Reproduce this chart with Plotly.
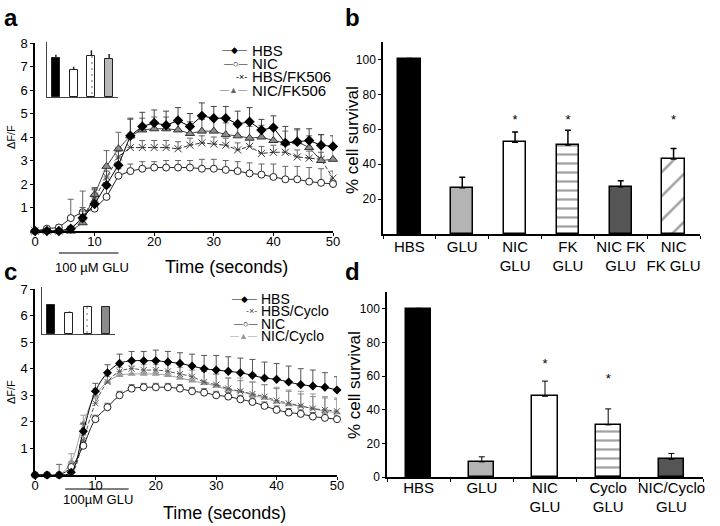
import plotly.graph_objects as go

FONT = "Liberation Sans, Arial, sans-serif"

# ---- panel a : calcium traces (FK506) ----
time_s = list(range(0, 52, 2))
a_hbs = [0, 0, 0, 0.1, 0.55, 1.15, 1.95, 2.8, 4.05, 4.45, 4.6, 4.5, 4.7, 4.45, 4.9, 4.8,
         4.8, 4.55, 4.65, 4.3, 4.4, 3.75, 3.8, 3.85, 3.65, 3.6]
a_hbs_err = [0, 0, 0, 0.1, 0.3, 0.6, 0.6, 0.6, 0.75, 0.6, 0.55, 0.6, 0.55, 0.55, 0.55, 0.5,
             0.5, 0.55, 0.6, 0.45, 0.5, 0.7, 0.55, 0.5, 0.45, 0.45]
a_nic = [0, 0.1, 0.15, 0.55, 0.8, 0.95, 1.45, 2.35, 2.55, 2.65, 2.7, 2.7, 2.7, 2.7, 2.65, 2.65,
         2.6, 2.55, 2.45, 2.4, 2.3, 2.2, 2.2, 2.1, 2.05, 2.0]
a_nic_err = [0, 0, 0.1, 0.8, 0.9, 0.5, 0.4, 0.3, 0.3, 0.3, 0.25, 0.3, 0.3, 0.3, 0.4, 0.4,
             0.4, 0.4, 0.45, 0.45, 0.55, 0.55, 0.55, 0.6, 0.6, 0.2]
a_hbsfk = [0, 0, 0, 0.05, 0.6, 1.4, 2.3, 3.15, 3.55, 3.55, 3.55, 3.55, 3.5, 3.65, 3.75, 3.7,
           3.65, 3.45, 3.6, 3.3, 3.35, 3.35, 3.15, 3.1, 3.05, 2.25]
a_hbsfk_err = [0, 0, 0, 0.1, 0.4, 0.4, 0.4, 0.4, 0.4, 0.3, 0.3, 0.3, 0.3, 0.3, 0.3, 0.3,
               0.3, 0.3, 0.3, 0.3, 0.3, 0.3, 0.3, 0.3, 0.3, 0.3]
a_nicfk = [0, 0, 0, 0, 0.35, 1.55, 2.75, 3.5, 4.05, 4.3, 4.35, 4.35, 4.3, 4.15, 4.25, 4.25,
           4.1, 4.05, 3.95, 4.0, 3.85, 3.75, 3.8, 3.55, 3.0, 3.05]
a_nicfk_err = [0, 0, 0, 0.1, 0.3, 0.3, 0.67, 0.7, 0.7, 0.5, 0.5, 0.5, 0.5, 0.5, 0.5, 0.5,
               0.5, 0.5, 0.5, 0.5, 0.5, 0.5, 0.5, 0.5, 1.1, 0.5]
glu_a = [4, 14]

# legend rows of a: label, sample glyphs, sample colour
legend_a = [("HBS", "—◆—", "black"), ("NIC", "—○—", "black"),
            ("HBS/FK506", "-×-", "black"), ("NIC/FK506", "—▲—", "#666")]

# inset of a (relative heights)
inset_a = [0.71, 0.49, 0.75, 0.69]
inset_a_err = [0.06, 0.06, 0.1, 0.09]

# ---- panel b : survival (FK506) ----
b_labels = ["HBS", "GLU", "NIC<br>GLU", "FK<br>GLU", "NIC FK<br>GLU", "NIC<br>FK GLU"]
b_vals = [100, 26.5, 52.5, 51, 27, 43]
b_err = [0.6, 6, 6, 8.5, 3.5, 6]
b_star_idx = [2, 3, 5]
b_star_y = [65, 65, 65]

# ---- panel c : calcium traces (cyclosporin) ----
c_hbs = [0, 0, 0, 0.1, 1.65, 3.15, 3.85, 4.2, 4.3, 4.3, 4.3, 4.25, 4.2, 4.1, 4.0, 3.95,
         3.9, 3.85, 3.75, 3.65, 3.6, 3.5, 3.4, 3.35, 3.3, 3.2]
c_hbs_err = [0, 0, 0, 0.1, 0.3, 0.3, 0.3, 0.35, 0.35, 0.35, 0.4, 0.4, 0.4, 0.45, 0.5, 0.55,
             0.55, 0.55, 0.6, 0.6, 0.6, 0.6, 0.6, 0.6, 0.55, 0.5]
c_hbscy = [0, 0, 0, 0.05, 1.3, 2.7, 3.5, 3.9, 4.0, 3.95, 3.95, 3.9, 3.8, 3.7, 3.5, 3.4,
           3.25, 3.15, 3.05, 2.95, 2.8, 2.7, 2.6, 2.5, 2.45, 2.4]
c_hbscy_err = [0, 0, 0, 0.1, 0.2, 0.2, 0.2, 0.25, 0.25, 0.3, 0.3, 0.3, 0.35, 0.35, 0.4, 0.4,
               0.4, 0.4, 0.45, 0.45, 0.45, 0.45, 0.45, 0.45, 0.45, 0.45]
c_nic = [0, 0, 0, 0.3, 1.1, 2.1, 2.55, 3.0, 3.25, 3.3, 3.3, 3.3, 3.25, 3.15, 3.1, 3.0,
         2.95, 2.85, 2.75, 2.6, 2.45, 2.35, 2.3, 2.2, 2.15, 2.1]
c_nic_err = [0, 0, 0.4, 0.1, 0.15, 0.15, 0.15, 0.15, 0.15, 0.15, 0.15, 0.15, 0.15, 0.15, 0.15, 0.15,
             0.15, 0.15, 0.15, 0.15, 0.15, 0.15, 0.15, 0.15, 0.15, 0.15]
c_niccy = [0, 0, 0, 0.5, 1.95, 3.0, 3.5, 3.75, 3.8, 3.8, 3.8, 3.75, 3.65, 3.55, 3.45, 3.35,
           3.2, 3.15, 3.0, 2.9, 2.75, 2.65, 2.6, 2.5, 2.4, 2.35]
c_niccy_err = [0, 0, 0, 0.3, 0.3, 0.25, 0.3, 0.3, 0.3, 0.35, 0.35, 0.4, 0.4, 0.4, 0.45, 0.45,
               0.45, 0.5, 0.5, 0.5, 0.55, 0.55, 0.55, 0.55, 0.55, 0.55]
glu_c = [5, 15.5]

legend_c = [("HBS", "—◆—", "black"), ("HBS/Cyclo", "-×-", "#444"),
            ("NIC", "—○—", "black"), ("NIC/Cyclo", "—▲—", "#999")]

inset_c = [0.61, 0.45, 0.58, 0.57]
inset_c_err = [0.02, 0.03, 0.02, 0.0]

# ---- panel d : survival (cyclosporin) ----
d_labels = ["HBS", "GLU", "NIC<br>GLU", "Cyclo<br>GLU", "NIC/Cyclo<br>GLU"]
d_vals = [100, 9, 48, 31, 10.5]
d_err = [0.3, 3, 9, 9.5, 3.5]
d_star_idx = [2, 3]
d_star_y = [67, 58]


def up_err(vals, color, thick=1):
    return dict(type="data", symmetric=False, array=vals, arrayminus=[0] * len(vals),
                color=color, thickness=thick, width=3)


fig = go.Figure()

# panel a traces
fig.add_trace(go.Scatter(x=time_s, y=a_nic, mode="lines+markers",
                         line=dict(color="#222", width=1),
                         marker=dict(symbol="circle", size=7, color="white", line=dict(color="#222", width=1)),
                         error_y=up_err(a_nic_err, "#666"), cliponaxis=False))
fig.add_trace(go.Scatter(x=time_s, y=a_hbsfk, mode="lines+markers",
                         line=dict(color="#333", width=1, dash="4px,2px"),
                         marker=dict(symbol="x-thin-open", size=7, color="#333", line=dict(color="#333", width=1)),
                         error_y=up_err(a_hbsfk_err, "#666"), cliponaxis=False))
fig.add_trace(go.Scatter(x=time_s, y=a_nicfk, mode="lines+markers",
                         line=dict(color="#444", width=1),
                         marker=dict(symbol="triangle-up", size=8, color="#8c8c8c", line=dict(color="#333", width=1)),
                         error_y=up_err(a_nicfk_err, "#666"), cliponaxis=False))
fig.add_trace(go.Scatter(x=time_s, y=a_hbs, mode="lines+markers",
                         line=dict(color="black", width=1),
                         marker=dict(symbol="diamond", size=8, color="black"),
                         error_y=up_err(a_hbs_err, "#444"), cliponaxis=False))

# inset a
fig.add_trace(go.Bar(x=[0, 1, 2, 3], y=inset_a, xaxis="x2", yaxis="y2", width=0.45,
                     marker=dict(color=["black", "white", "white", "#b8b8b8"],
                                 line=dict(color="#222", width=1),
                                 pattern=dict(shape=["", "", ".", ""], fgcolor="#aaa", size=6, solidity=0.1)),
                     error_y=dict(type="data", symmetric=False, array=inset_a_err, arrayminus=[0] * 4,
                                  color="#222", thickness=1.5, width=0)))

# panel b
b_fill = ["black", "#b4b4b4", "white", "white", "#555555", "white"]
fig.add_trace(go.Bar(x=b_labels, y=b_vals, xaxis="x3", yaxis="y3", width=0.42,
                     marker=dict(color=b_fill, line=dict(color="black", width=1.5),
                                 pattern=dict(shape=["", "", "", "-", "", "/"], fgcolor="black", bgcolor=b_fill,
                                              size=[9, 9, 9, 9, 9, 17], solidity=[0.2, 0.2, 0.2, 0.25, 0.2, 0.15])),
                     error_y=up_err(b_err, "black", 1.5)))
fig.add_trace(go.Scatter(x=[b_labels[i] for i in b_star_idx], y=b_star_y, xaxis="x3", yaxis="y3",
                         mode="text", text=["*"] * len(b_star_idx), textfont=dict(size=13, color="black")))

# panel c traces
fig.add_trace(go.Scatter(x=time_s, y=c_niccy, mode="lines+markers", xaxis="x4", yaxis="y4",
                         line=dict(color="#a0a0a0", width=1, shape="spline"),
                         marker=dict(symbol="triangle-up", size=7, color="#9a9a9a"),
                         error_y=up_err(c_niccy_err, "#999"), cliponaxis=False))
fig.add_trace(go.Scatter(x=time_s, y=c_hbscy, mode="lines+markers", xaxis="x4", yaxis="y4",
                         line=dict(color="#555", width=1, dash="4px,2px", shape="spline"),
                         marker=dict(symbol="x-thin-open", size=6, color="#555", line=dict(color="#555", width=1)),
                         error_y=up_err(c_hbscy_err, "#888"), cliponaxis=False))
fig.add_trace(go.Scatter(x=time_s, y=c_nic, mode="lines+markers", xaxis="x4", yaxis="y4",
                         line=dict(color="#222", width=1, shape="spline"),
                         marker=dict(symbol="circle", size=7, color="white", line=dict(color="#222", width=1)),
                         error_y=up_err(c_nic_err, "#666"), cliponaxis=False))
fig.add_trace(go.Scatter(x=time_s, y=c_hbs, mode="lines+markers", xaxis="x4", yaxis="y4",
                         line=dict(color="black", width=1, shape="spline"),
                         marker=dict(symbol="diamond", size=7, color="black"),
                         error_y=up_err(c_hbs_err, "#555"), cliponaxis=False))

# inset c
fig.add_trace(go.Bar(x=[0, 1, 2, 3], y=inset_c, xaxis="x5", yaxis="y5", width=0.45,
                     marker=dict(color=["black", "white", "white", "#8a8a8a"],
                                 line=dict(color="#222", width=1),
                                 pattern=dict(shape=["", "", ".", ""], fgcolor="#aaa", size=6, solidity=0.1)),
                     error_y=dict(type="data", symmetric=False, array=inset_c_err, arrayminus=[0] * 4,
                                  color="#222", thickness=1.5, width=0)))

# panel d
d_fill = ["black", "#b4b4b4", "white", "white", "#555555"]
fig.add_trace(go.Bar(x=d_labels, y=d_vals, xaxis="x6", yaxis="y6", width=0.4,
                     marker=dict(color=d_fill, line=dict(color="black", width=1.5),
                                 pattern=dict(shape=["", "", "", "-", ""], fgcolor="black", bgcolor=d_fill,
                                              size=9, solidity=0.25)),
                     error_y=up_err(d_err, "black")))
fig.add_trace(go.Scatter(x=[d_labels[i] for i in d_star_idx], y=d_star_y, xaxis="x6", yaxis="y6",
                         mode="text", text=["*"] * len(d_star_idx), textfont=dict(size=13, color="black")))

# GLU application bars
fig.add_shape(type="line", xref="x", yref="paper", x0=glu_a[0], x1=glu_a[1],
              y0=1 - 253 / 526, y1=1 - 253 / 526, line=dict(color="black", width=1))
fig.add_shape(type="line", xref="x4", yref="paper", x0=glu_c[0], x1=glu_c[1],
              y0=1 - 489 / 526, y1=1 - 489 / 526, line=dict(color="black", width=1))

line_ax = dict(showline=True, linecolor="black", linewidth=1.5, showgrid=False, zeroline=False, automargin=False,
               ticks="outside", ticklen=3, tickcolor="black", tickfont=dict(family=FONT, size=13, color="black"))
inset_ax = dict(showline=True, linecolor="#444", linewidth=1, showgrid=False, zeroline=False, automargin=False,
                showticklabels=False, ticks="")
cat_font = dict(family=FONT, size=15, color="black")

fig.update_layout(
    width=720, height=526, margin=dict(l=0, r=0, t=0, b=0),
    paper_bgcolor="white", plot_bgcolor="white",
    font=dict(family=FONT, color="black"),
    showlegend=False, bargap=0,
    xaxis=dict(line_ax, domain=[35 / 720, 333 / 720], range=[0, 50], tickvals=[0, 10, 20, 30, 40, 50],
               anchor="y", ticklabelstandoff=-5),
    yaxis=dict(line_ax, domain=[1 - 231 / 526, 1 - 43 / 526], range=[0, 8], tickvals=list(range(1, 9)), anchor="x"),
    xaxis2=dict(inset_ax, domain=[47 / 720, 118 / 720], range=[-0.5, 3.5], anchor="y2"),
    yaxis2=dict(inset_ax, domain=[1 - 97 / 526, 1 - 42 / 526], range=[0, 1], anchor="x2"),
    xaxis3=dict(line_ax, domain=[383 / 720, 700 / 720], anchor="y3", type="category", tickson="boundaries",
                tickangle=0, tickfont=cat_font, ticklabelstandoff=-2),
    yaxis3=dict(line_ax, domain=[1 - 234 / 526, 1 - 42 / 526], range=[0, 110], tickvals=[20, 40, 60, 80, 100],
                anchor="x3", tickfont=dict(family=FONT, size=12, color="black")),
    xaxis4=dict(line_ax, domain=[35 / 720, 337 / 720], range=[0, 50], tickvals=[0, 10, 20, 30, 40, 50],
                anchor="y4", ticklabelstandoff=-5),
    yaxis4=dict(line_ax, domain=[1 - 475 / 526, 1 - 289 / 526], range=[0, 7], tickvals=list(range(1, 8)), anchor="x4"),
    xaxis5=dict(inset_ax, domain=[42 / 720, 115 / 720], range=[-0.5, 3.5], anchor="y5"),
    yaxis5=dict(inset_ax, domain=[1 - 334 / 526, 1 - 287 / 526], range=[0, 1], anchor="x5"),
    xaxis6=dict(line_ax, domain=[387 / 720, 703 / 720], anchor="y6", type="category", tickson="boundaries",
                tickangle=0, tickfont=cat_font, ticklabelstandoff=-4),
    yaxis6=dict(line_ax, domain=[1 - 477 / 526, 1 - 292 / 526], range=[0, 110],
                tickvals=[0, 20, 40, 60, 80, 100], anchor="x6", tickfont=dict(family=FONT, size=12, color="black")),
)


def note(text, x, y, size, xanchor="center", yanchor="middle", angle=0, color="black"):
    fig.add_annotation(text=text, xref="paper", yref="paper", x=x / 720, y=1 - y / 526, showarrow=False,
                       xanchor=xanchor, yanchor=yanchor, textangle=angle,
                       font=dict(family=FONT, size=size, color=color))


note("<b>a</b>", 2, 2, 24, "left", "top")
note("<b>b</b>", 343, 2, 24, "left", "top")
note("<b>c</b>", 2, 256, 24, "left", "top")
note("<b>d</b>", 343, 256, 24, "left", "top")
note("Time (seconds)", 226, 267, 18)
note("100 µM GLU", 92, 267, 13)
note("Time (seconds)", 224, 513, 18)
note("100µM GLU", 98, 499, 13)
note("ΔF/F", 11, 137, 11, angle=-90)
note("ΔF/F", 11, 392, 11, angle=-90)
note("% cell survival", 352, 140, 17, angle=-90)
note("% cell survival", 354, 385, 17, angle=-90)

# compact legends
for i, (label, glyph, col) in enumerate(legend_a):
    y = 50 + i * 13.5
    note(glyph, 249, y, 9, "right", color=col)
    note(label, 250, y, 15, "left")
for i, (label, glyph, col) in enumerate(legend_c):
    y = 299 + i * 12.3
    note(glyph, 259, y, 9, "right", color=col)
    note(label, 259, y, 14, "left")

# drop the default 8px page margin so the figure sits at the window's top-left corner
fig.write_html("out.html", config={"displayModeBar": False},
               post_script="document.body.style.margin='0';")
